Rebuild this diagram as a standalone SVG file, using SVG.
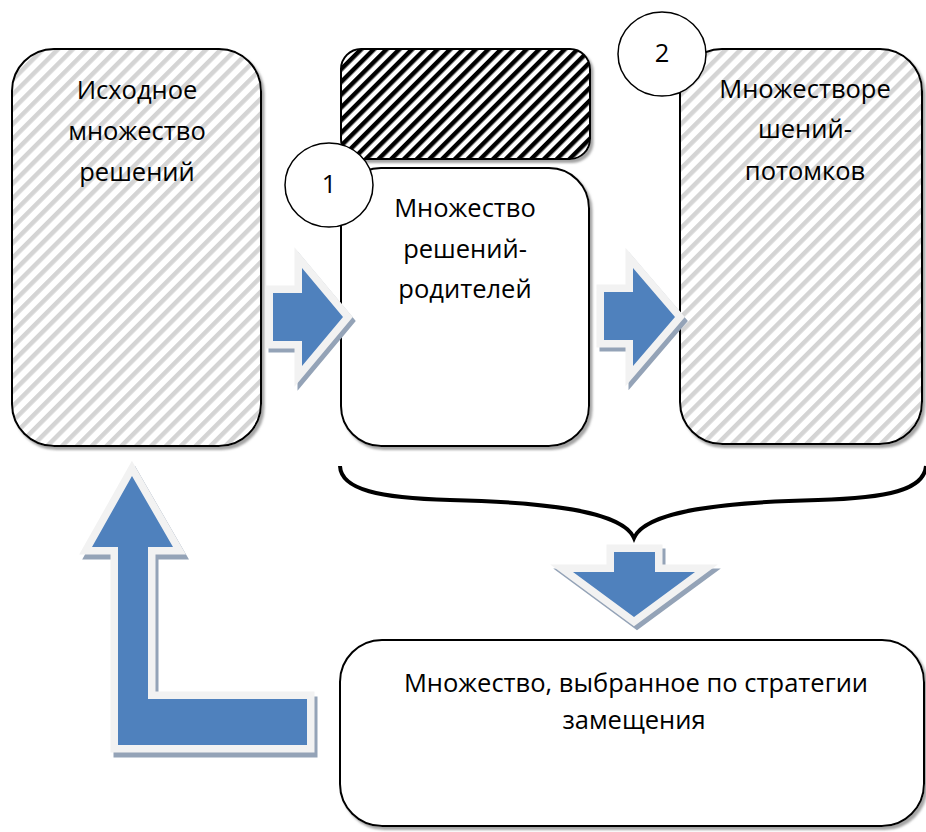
<svg xmlns="http://www.w3.org/2000/svg" width="926" height="832" viewBox="0 0 926 832">
<style>
.box{stroke:#000;stroke-width:2}
.t{font-family:"Open Sans","Liberation Sans",sans-serif;font-size:25.5px;fill:#000;text-anchor:middle}
.ar{fill:#4f81bd;stroke:#f2f2f2;stroke-width:15;stroke-linejoin:miter;stroke-miterlimit:10;paint-order:stroke}
.arsh{fill:#94a3b7;stroke:#94a3b7;stroke-width:15;stroke-linejoin:miter;stroke-miterlimit:10}
.circ{fill:#fff;stroke:#000;stroke-width:1.5}
</style>
<defs>
<pattern id="hatchGray" width="10.5" height="10.5" patternUnits="userSpaceOnUse" patternTransform="rotate(45)">
<rect width="10.5" height="10.5" fill="#fff"/>
<rect width="4.5" height="10.5" fill="#d4d4d4"/>
</pattern>
<pattern id="hatchBlack" width="9" height="9" patternUnits="userSpaceOnUse" patternTransform="rotate(45)">
<rect width="9" height="9" fill="#fff"/>
<rect width="4.5" height="9" fill="#000"/>
</pattern>
<filter id="sh" x="-10%" y="-10%" width="130%" height="130%">
<feDropShadow dx="2.5" dy="3" stdDeviation="1.2" flood-color="#7f7f7f" flood-opacity="0.7"/>
</filter>
</defs>

<g id="node-initial">
<rect class="box" x="12" y="49" width="249" height="397" rx="42" fill="url(#hatchGray)" filter="url(#sh)"/>
<text class="t" x="137" y="99">Исходное</text>
<text class="t" x="137" y="140">множество</text>
<text class="t" x="137" y="181">решений</text>
</g>

<g id="node-black">
<rect class="box" x="341" y="49" width="249" height="110" rx="20" fill="url(#hatchBlack)" filter="url(#sh)"/>
</g>

<g id="node-parents">
<rect class="box" x="341" y="168" width="248" height="278" rx="40" fill="#fff" filter="url(#sh)"/>
<text class="t" x="465" y="217">Множество</text>
<text class="t" x="465" y="258">решений-</text>
<text class="t" x="465" y="298">родителей</text>
</g>

<g id="node-children">
<rect class="box" x="680" y="49" width="242" height="395" rx="42" fill="url(#hatchGray)" filter="url(#sh)"/>
<text class="t" x="805" y="98">Множестворе</text>
<text class="t" x="805" y="138">шений-</text>
<text class="t" x="805" y="180">потомков</text>
</g>

<g id="node-selected">
<rect class="box" x="340" y="640" width="584" height="186" rx="42" fill="#fff" filter="url(#sh)"/>
<text class="t" x="636" y="692">Множество, выбранное по стратегии</text>
<text class="t" x="634" y="729">замещения</text>
</g>

<g id="connectors">
<g id="arrow-right-1">
<polygon class="arsh" transform="translate(3,4)" points="273,293 302,293 302,268 343,317 302,366 302,341 273,341"/>
<polygon class="ar" points="273,293 302,293 302,268 343,317 302,366 302,341 273,341"/>
</g>
<g id="arrow-right-2">
<polygon class="arsh" transform="translate(3,4)" points="604,292 633,292 633,268 675,317 633,366 633,340 604,340"/>
<polygon class="ar" points="604,292 633,292 633,268 675,317 633,366 633,340 604,340"/>
</g>
<path id="brace" d="M340,466 C341,490 380,498 450,500 C540,502 622,510 634,538 C646,510 728,502 818,500 C888,498 924,490 926,466" fill="none" stroke="#000" stroke-width="4"/>
<g id="arrow-down">
<polygon class="arsh" transform="translate(3,4)" points="614,552 655,552 655,572 695,572 634,617 573,572 614,572"/>
<polygon class="ar" points="614,552 655,552 655,572 695,572 634,617 573,572 614,572"/>
</g>
<g id="arrow-return">
<polygon class="arsh" transform="translate(3,5)" points="132,476 173,547 148,547 148,699 307,699 307,745 118,745 118,547 92,547"/>
<polygon class="ar" points="132,476 173,547 148,547 148,699 307,699 307,745 118,745 118,547 92,547"/>
</g>
</g>

<g id="badge-1">
<ellipse class="circ" cx="329" cy="185" rx="44" ry="42"/>
<text class="t" x="329" y="193">1</text>
</g>
<g id="badge-2">
<ellipse class="circ" cx="662" cy="54" rx="44" ry="42"/>
<text class="t" x="662" y="62">2</text>
</g>
</svg>
